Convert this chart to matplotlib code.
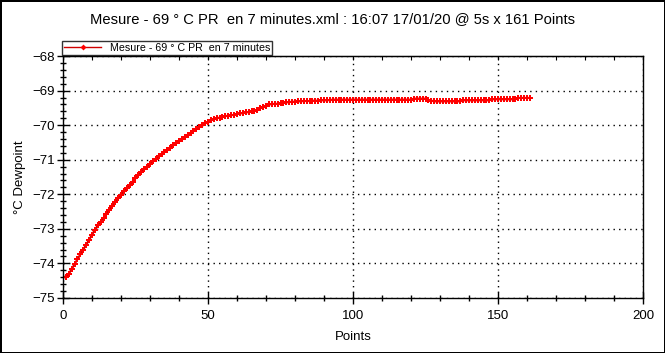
import numpy as np
import matplotlib
matplotlib.use("Agg")
import matplotlib.pyplot as plt
from matplotlib.ticker import MultipleLocator

plt.rcParams['font.family'] = ['Liberation Sans', 'DejaVu Sans']

# valeurs (161 points, 5 s)
points = list(range(1, 162))
dewpoint = [
    -74.40, -74.30, -74.17, -74.02, -73.88, -73.74, -73.60, -73.46, -73.32, -73.17,
    -73.03, -72.90, -72.80, -72.68, -72.56, -72.45, -72.34, -72.23, -72.12, -72.01,
    -71.91, -71.82, -71.72, -71.63, -71.54, -71.45, -71.36, -71.28, -71.20, -71.12,
    -71.04, -70.97, -70.89, -70.83, -70.77, -70.71, -70.65, -70.58, -70.52, -70.46,
    -70.39, -70.33, -70.28, -70.23, -70.17, -70.11, -70.05, -69.99, -69.94, -69.90,
    -69.86, -69.83, -69.80, -69.78, -69.76, -69.74, -69.72, -69.71, -69.70, -69.68,
    -69.66, -69.65, -69.63, -69.62, -69.60, -69.58, -69.55, -69.51, -69.47, -69.43,
    -69.40, -69.39, -69.38, -69.38, -69.37, -69.36, -69.34, -69.33, -69.32, -69.32,
    -69.31, -69.31, -69.30, -69.30, -69.30, -69.29, -69.29, -69.29, -69.28, -69.28,
    -69.28, -69.27, -69.26, -69.26, -69.26, -69.26, -69.26, -69.26, -69.26, -69.26,
    -69.26, -69.26, -69.26, -69.26, -69.26, -69.26, -69.26, -69.26, -69.26, -69.26,
    -69.26, -69.26, -69.26, -69.26, -69.26, -69.26, -69.26, -69.26, -69.26, -69.26,
    -69.23, -69.23, -69.23, -69.23, -69.23, -69.27, -69.29, -69.31, -69.31, -69.31,
    -69.31, -69.31, -69.31, -69.31, -69.31, -69.31, -69.31, -69.28, -69.28, -69.28,
    -69.28, -69.28, -69.28, -69.28, -69.28, -69.28, -69.28, -69.25, -69.25, -69.25,
    -69.25, -69.25, -69.25, -69.25, -69.25, -69.25, -69.21, -69.21, -69.21, -69.21,
    -69.21,
]

titre = "Mesure - 69 ° C PR  en 7 minutes.xml : 16:07 17/01/20 @ 5s x 161 Points"
legende = "Mesure - 69 ° C PR  en 7 minutes"

fig = plt.figure(figsize=(6.65, 3.53), dpi=100)
fig.patch.set_facecolor('white')
fig.patch.set_edgecolor('black')
fig.patch.set_linewidth(2)
ax = fig.add_axes([0.0947, 0.156, 0.8723, 0.685])

ax.plot(points, dewpoint, color='#d00000', linewidth=1.5, marker='P',
        markersize=4.8, markerfacecolor='red', markeredgecolor='red',
        markeredgewidth=0, label=legende)

ax.set_xlim(0, 200)
ax.set_ylim(-75, -68)
ax.xaxis.set_major_locator(MultipleLocator(50))
ax.xaxis.set_minor_locator(MultipleLocator(10))
ax.yaxis.set_major_locator(MultipleLocator(1))
ax.yaxis.set_minor_locator(MultipleLocator(0.2))
ax.tick_params(which='major', direction='inout', length=8, width=1, labelsize=9.5, pad=2)
ax.tick_params(which='minor', direction='inout', length=5, width=1)
ax.tick_params(axis='x', pad=5)
ax.grid(True, which='major', color='black', linestyle=(0, (1, 3)), linewidth=1)

top = ax.secondary_xaxis('top')
top.set_xticks(np.arange(0, 201, 10))
top.tick_params(direction='in', length=3, labeltop=False)

for s in ax.spines.values():
    s.set_linewidth(1)

ax.set_xlabel("Points", fontsize=9.5, labelpad=6)
ax.set_ylabel("°C Dewpoint", fontsize=9.5, labelpad=4)
fig.suptitle(titre, fontsize=10.6, y=0.965)

leg = ax.legend(loc='lower left', bbox_to_anchor=(-0.002, 1.005), fontsize=7.7,
                frameon=True, fancybox=False, edgecolor='black', borderpad=0.2,
                handlelength=3.5, handletextpad=0.8, borderaxespad=0)
leg.get_frame().set_linewidth(1)
leg.legend_handles[0].set_markersize(3)
leg.legend_handles[0].set_marker('D')
leg.legend_handles[0].set_linewidth(1)

fig.savefig("out.png", dpi=100)
